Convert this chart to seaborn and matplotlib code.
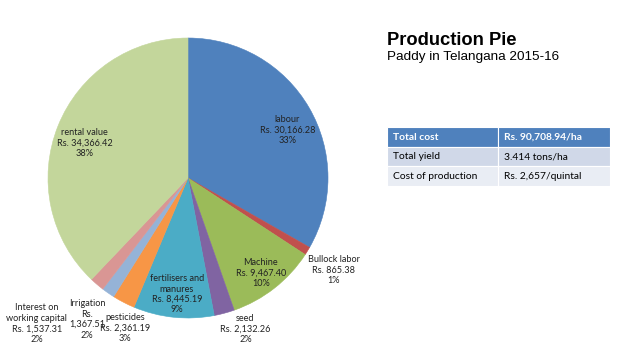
import matplotlib
matplotlib.use("Agg")
import matplotlib.pyplot as plt
import seaborn as sns
from matplotlib.patches import Rectangle

sns.set_theme(style="white")
plt.rcParams['font.family'] = ['Lato', 'DejaVu Sans']

items = ["labour", "Bullock labor", "Machine", "seed", "fertilisers and\nmanures",
         "pesticides", "Irrigation\nRs.", "Interest on\nworking capital", "rental value"]
costs = [30166.28, 865.38, 9467.40, 2132.26, 8445.19, 2361.19, 1367.51, 1537.31, 34366.42]
value_text = ["Rs. 30,166.28", "Rs. 865.38", "Rs. 9,467.40", "Rs. 2,132.26", "Rs. 8,445.19",
              "Rs. 2,361.19", "1,367.51", "Rs. 1,537.31", "Rs. 34,366.42"]
pct_text = ["33%", "1%", "10%", "2%", "9%", "3%", "2%", "2%", "38%"]
colors = ["#4F81BD", "#C0504D", "#9BBB59", "#8064A2", "#4BACC6",
          "#F79646", "#95B3D7", "#D99694", "#C3D69B"]
# label anchor points in pie units (radius = 1)
label_pos = [(0.71, 0.34), (1.04, -0.66), (0.52, -0.68), (0.41, -1.08), (-0.08, -0.83),
             (-0.45, -1.07), (-0.72, -1.01), (-1.08, -1.04), (-0.74, 0.25)]

table_rows = [["Total cost", "Rs. 90,708.94/ha"],
              ["Total yield", "3.414 tons/ha"],
              ["Cost of production", "Rs. 2,657/quintal"]]
row_colors = ["#4F81BD", "#D0D8E8", "#E9EDF4"]

fig = plt.figure(figsize=(6.38, 3.59), dpi=100)
ax = fig.add_axes([48 / 638, 41 / 359, 280 / 638, 280 / 359])
wedges, _ = ax.pie(costs, colors=colors, startangle=90, counterclock=False,
                   wedgeprops=dict(linewidth=0.4))
for w in wedges:
    w.set_edgecolor(w.get_facecolor())
ax.set_xlim(-1, 1)
ax.set_ylim(-1, 1)
ax.set_aspect("auto")
ax.axis("off")
for name, val, pct, (x, y) in zip(items, value_text, pct_text, label_pos):
    ax.text(x, y, f"{name}\n{val}\n{pct}", ha="center", va="center",
            fontsize=6.6, color="#222222", linespacing=1.2, clip_on=False)

fig.text(387 / 638, 1 - 45 / 359, "Production Pie", fontsize=13.2, fontweight="bold",
         family="Liberation Sans", color="black", va="baseline")
fig.text(387 / 638, 1 - 60 / 359, "Paddy in Telangana 2015-16", fontsize=9.7,
         family="Liberation Sans", color="black", va="baseline")

tax = fig.add_axes([387 / 638, 1 - 186 / 359, (610 - 387) / 638, (186 - 127) / 359])
tax.set_xlim(0, 223)
tax.set_ylim(3, 0)
tax.axis("off")
split = 111
for i, (row, c) in enumerate(zip(table_rows, row_colors)):
    tax.add_patch(Rectangle((0, i), split, 1, facecolor=c, edgecolor="white", linewidth=0.8))
    tax.add_patch(Rectangle((split, i), 223 - split, 1, facecolor=c, edgecolor="white", linewidth=0.8))
    header = i == 0
    tc = "white" if header else "black"
    fw = "bold" if header else "normal"
    tax.text(6, i + 0.52, row[0], ha="left", va="center", fontsize=7.4, color=tc, fontweight=fw)
    tax.text(split + 6, i + 0.52, row[1], ha="left", va="center", fontsize=7.4, color=tc, fontweight=fw)

fig.savefig("out.png", dpi=100)
